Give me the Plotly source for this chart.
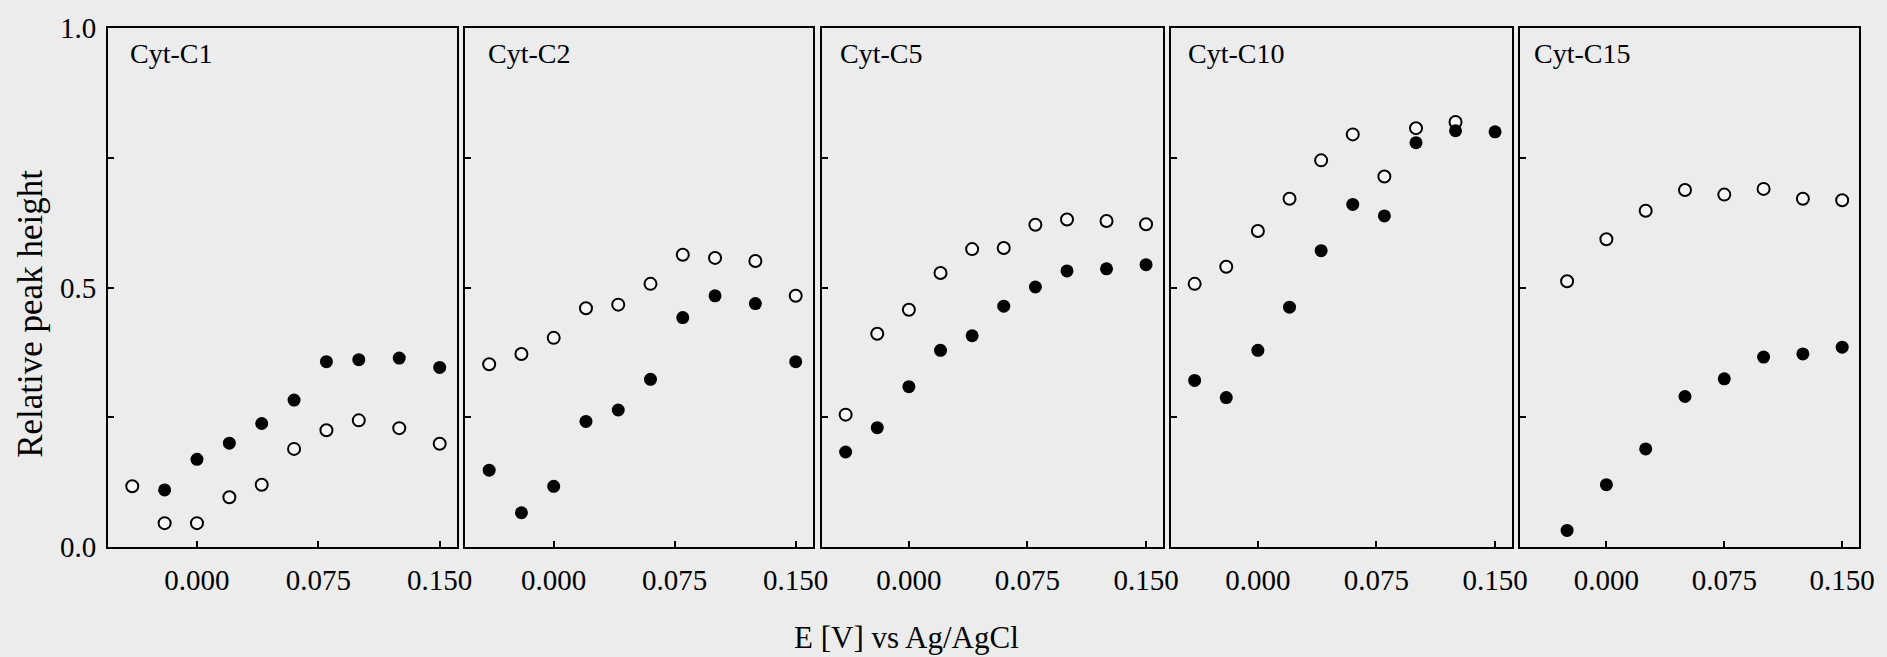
import plotly.graph_objects as go

panels = ["Cyt-C1", "Cyt-C2", "Cyt-C5", "Cyt-C10", "Cyt-C15"]

x_a = [-0.04, -0.02, 0.0, 0.02, 0.04, 0.06, 0.08, 0.10, 0.125, 0.15]
x_c15 = [-0.025, 0.0, 0.025, 0.05, 0.075, 0.10, 0.125, 0.15]

# open circles
open_x = [x_a, x_a, x_a, x_a[:9], x_c15]
open_y = [
    [0.117, 0.046, 0.046, 0.096, 0.120, 0.189, 0.225, 0.244, 0.229, 0.199],
    [0.352, 0.372, 0.403, 0.460, 0.467, 0.507, 0.563, 0.557, 0.551, 0.484],
    [0.255, 0.411, 0.457, 0.528, 0.574, 0.576, 0.621, 0.631, 0.628, 0.622],
    [0.507, 0.540, 0.609, 0.671, 0.745, 0.795, 0.714, 0.807, 0.819],
    [0.512, 0.593, 0.648, 0.688, 0.679, 0.690, 0.671, 0.668],
]
# filled circles
fill_x = [x_a[1:], x_a, x_a, x_a, x_c15]
fill_y = [
    [0.110, 0.169, 0.200, 0.238, 0.283, 0.357, 0.361, 0.364, 0.346],
    [0.148, 0.066, 0.117, 0.242, 0.264, 0.323, 0.442, 0.484, 0.469, 0.357],
    [0.183, 0.230, 0.309, 0.379, 0.407, 0.464, 0.501, 0.532, 0.536, 0.544],
    [0.321, 0.288, 0.379, 0.462, 0.571, 0.660, 0.638, 0.779, 0.802, 0.800],
    [0.032, 0.120, 0.189, 0.290, 0.324, 0.366, 0.372, 0.385],
]

x_tickvals = [0.0, 0.075, 0.15]
x_ticktext = ["0.000", "0.075", "0.150"]
y_tickvals = [0.0, 0.25, 0.5, 0.75, 1.0]
y_ticktext = ["0.0", "", "0.5", "", "1.0"]

W, H = 1887, 657
L, R, T, B = 108, 18, 25, 110
pw = W - L - R
ph = H - T - B
panel_px = [(108, 459), (467, 817), (826, 1169), (1177, 1520), (1528, 1869)]
title_shift = [20, 21, 16, 15, 12]

BG = "#ececec"
FONT = "Liberation Serif"

fig = go.Figure()
layout = dict(
    width=W, height=H,
    margin=dict(l=L, r=R, t=T, b=B, pad=0),
    paper_bgcolor=BG, plot_bgcolor=BG,
    showlegend=False,
    font=dict(family=FONT, size=28, color="black"),
    annotations=[],
)

for i, name in enumerate(panels):
    n = i + 1
    xa = "x" if n == 1 else f"x{n}"
    ya = "y" if n == 1 else f"y{n}"
    fig.add_trace(go.Scatter(
        x=open_x[i], y=open_y[i], mode="markers", xaxis=xa, yaxis=ya,
        marker=dict(symbol="circle", size=12, color="#f7f7f7",
                    line=dict(color="black", width=2)),
    ))
    fig.add_trace(go.Scatter(
        x=fill_x[i], y=fill_y[i], mode="markers", xaxis=xa, yaxis=ya,
        marker=dict(symbol="circle", size=13, color="black",
                    line=dict(color="black", width=0)),
    ))
    a, b = panel_px[i]
    dom = [(a - L) / pw, (b - L) / pw]
    xkey = "xaxis" if n == 1 else f"xaxis{n}"
    ykey = "yaxis" if n == 1 else f"yaxis{n}"
    layout[xkey] = dict(
        domain=dom, range=[-0.055, 0.1607], anchor=ya,
        tickmode="array", tickvals=x_tickvals, ticktext=x_ticktext,
        ticks="inside", ticklen=6, tickwidth=1.5, tickcolor="black",
        ticklabelstandoff=6,
        showline=True, linecolor="black", linewidth=2, mirror=True,
        showgrid=False, zeroline=False,
        tickfont=dict(family=FONT, size=29, color="black"),
    )
    layout[ykey] = dict(
        domain=[0, 1], range=[0, 1], anchor=xa,
        tickmode="array", tickvals=y_tickvals, ticktext=y_ticktext,
        showticklabels=(n == 1),
        ticks="inside", ticklen=6, tickwidth=1.5, tickcolor="black",
        ticklabelstandoff=4,
        showline=True, linecolor="black", linewidth=2, mirror=True,
        showgrid=False, zeroline=False,
        tickfont=dict(family=FONT, size=29, color="black"),
    )
    layout["annotations"].append(dict(
        text=name, xref=f"{xa} domain", yref="paper",
        x=0, y=(H - B - 51) / ph, xanchor="left", yanchor="middle",
        xshift=title_shift[i], showarrow=False,
        font=dict(family=FONT, size=28, color="black"),
    ))

layout["annotations"].append(dict(
    text="Relative peak height", xref="paper", yref="paper",
    x=(30 - L) / pw, y=(H - B - 312) / ph, textangle=-90,
    xanchor="center", yanchor="middle", showarrow=False,
    font=dict(family=FONT, size=35, color="black"),
))
layout["annotations"].append(dict(
    text="E [V] vs Ag/AgCl", xref="paper", yref="paper",
    x=(911 - L) / pw, y=(H - B - 638) / ph,
    xanchor="center", yanchor="middle", showarrow=False,
    font=dict(family=FONT, size=31, color="black"),
))

fig.update_layout(**layout)
fig.write_html("out.html")
